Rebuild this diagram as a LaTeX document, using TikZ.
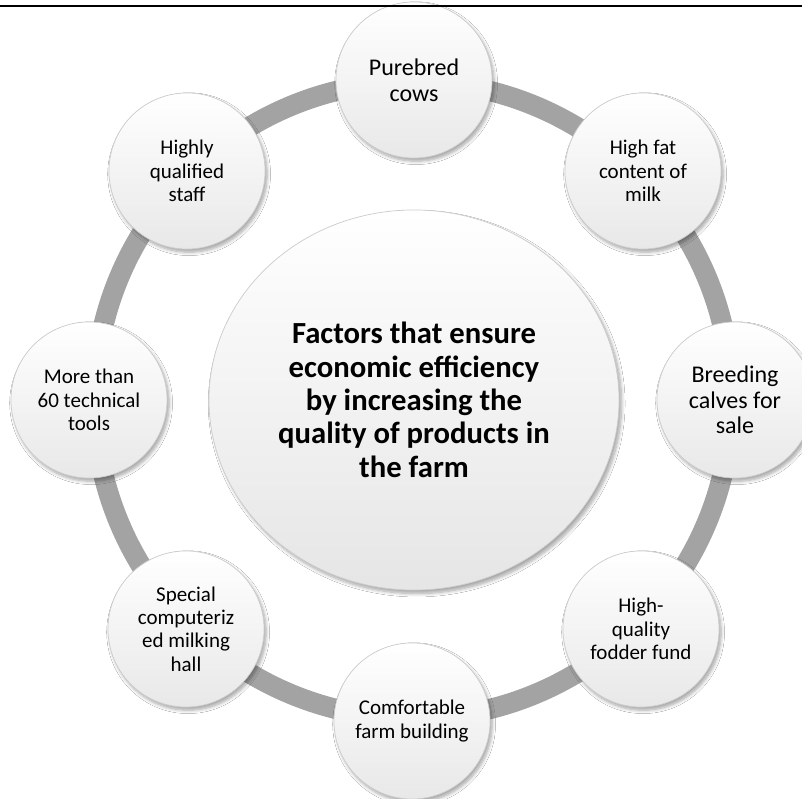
\documentclass[tikz,border=0pt]{standalone}
\usepackage{fontspec}
\setmainfont{Carlito}
\usetikzlibrary{shapes.geometric,shadows.blur}
\begin{document}
\begin{tikzpicture}[x=0.567pt,y=-0.567pt,
  ball/.style={circle, inner sep=0pt, minimum size=88.5pt, align=center,
    draw=black!20, line width=0.4pt,
    top color=white, middle color=white, bottom color=black!9,
    blur shadow={shadow xshift=1.2pt, shadow yshift=-1.8pt, shadow blur steps=6, shadow opacity=35},
    text=black, font=\fontsize{11.9}{13.3}\selectfont},
  bigball/.style={ball, font=\fontsize{13.6}{14.6}\selectfont},
  hub/.style={ellipse, inner sep=0pt, minimum width=232.5pt, minimum height=215.5pt, align=center,
    draw=black!20, line width=0.4pt,
    top color=white, middle color=white, bottom color=black!10,
    blur shadow={shadow xshift=1.5pt, shadow yshift=-2pt, shadow blur steps=8, shadow opacity=35},
    font=\bfseries\fontsize{17.4}{18.9}\selectfont},
  ring/.style={draw=black!36, line width=11.5pt}
]
\useasboundingbox (0,0) rectangle (802,799);
\clip (0,0) rectangle (802,799);
\fill[white] (0,0) rectangle (802,799);
\coordinate (C) at (413,400);
\draw[ring] (C) circle[radius=180.5pt];
\node[hub] (hub) at (414,400) {Factors that ensure\\economic efficiency\\by increasing the\\quality of products in\\the farm};
\node[bigball] (n1) at (414,80) {Purebred\\cows};
\node[ball] (n2) at (643,171) {High fat\\content of\\milk};
\node[bigball] (n3) at (735,400) {Breeding\\calves for\\sale};
\node[ball] (n4) at (641,629) {High-\\quality\\fodder fund};
\node[ball] (n5) at (412,721) {Comfortable\\farm building};
\node[ball] (n6) at (186,629) {Special\\computeriz\\ed milking\\hall};
\node[ball] (n7) at (89,400) {More than\\60 technical\\tools};
\node[ball] (n8) at (187,171) {Highly\\qualified\\staff};
\draw[black, line width=1.4pt] (0,6) -- (802,6);
\end{tikzpicture}
\end{document}
